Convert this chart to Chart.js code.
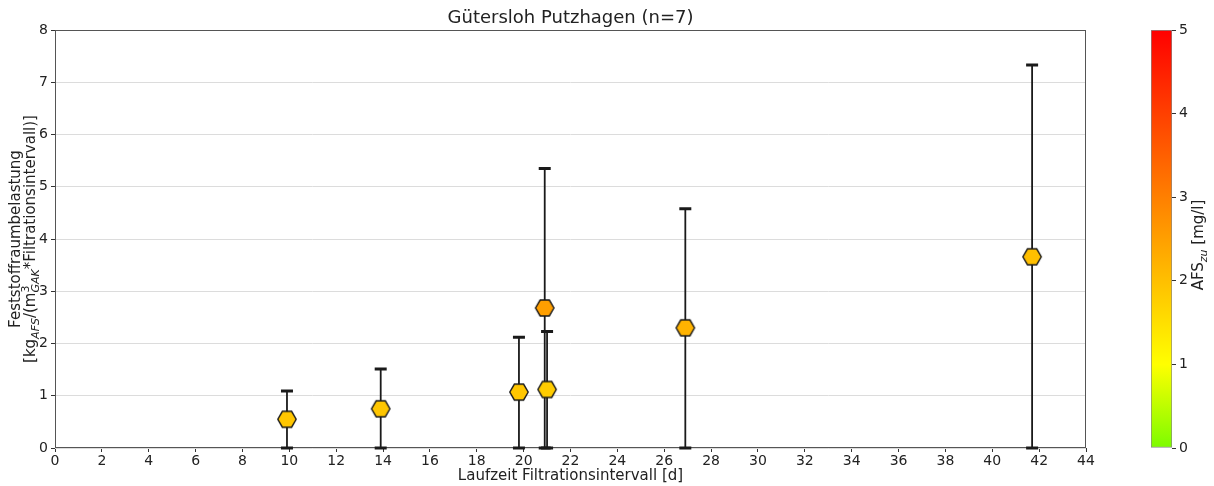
<!DOCTYPE html>
<html>
<head>
<meta charset="utf-8">
<script src="https://cdn.jsdelivr.net/npm/chart.js@4.4.0/dist/chart.umd.min.js"></script>
<style>
    body { margin: 0; background: #fff; }
    #wrap { position: relative; width: 1214px; height: 486px; }
    #main { position: absolute; left: 0; top: 0; }
    #cbar { position: absolute; left: 1130px; top: 0; }
</style>
</head>
<body>
<div id="wrap">
    <canvas id="main" width="1214" height="486"></canvas>
    <canvas id="cbar" width="84" height="486"></canvas>
</div>
<script>
// Data
const days = [9.9, 13.9, 19.8, 20.9, 21.0, 26.9, 41.7];      // Laufzeit [d]
const loadMean = [0.55, 0.75, 1.07, 2.68, 1.12, 2.30, 3.66];  // Feststoffraumbelastung
const loadMin = [0, 0, 0, 0, 0, 0, 0];
const loadMax = [1.09, 1.51, 2.12, 5.35, 2.23, 4.58, 7.33];
const afsIn = [1.9, 1.9, 1.9, 2.5, 1.8, 2.2, 2.0];            // AFS_zu [mg/l]
const cbarRange = [0, 5];

const FONT = '"DejaVu Sans", Verdana, sans-serif';
const TXT = '#222';

// green -> yellow -> red colormap
const cmapStops = [[0, [124, 252, 0]], [0.2, [255, 255, 0]], [1, [255, 0, 0]]];
function afsColor(v) {
    const t = Math.min(1, Math.max(0, (v - cbarRange[0]) / (cbarRange[1] - cbarRange[0])));
    for (let i = 1; i < cmapStops.length; i++) {
        const [t0, c0] = cmapStops[i - 1];
        const [t1, c1] = cmapStops[i];
        if (t <= t1) {
            const f = (t - t0) / (t1 - t0);
            const c = c0.map((a, k) => Math.round(a + (c1[k] - a) * f));
            return `rgb(${c[0]},${c[1]},${c[2]})`;
        }
    }
    return 'rgb(255,0,0)';
}

// hexagon marker (pointy left/right)
function hexMarker(fill) {
    const c = document.createElement('canvas');
    c.width = 22; c.height = 20;
    const g = c.getContext('2d');
    g.beginPath();
    for (let i = 0; i < 6; i++) {
        const a = i * Math.PI / 3;
        const px = 11 + 9.2 * Math.cos(a), py = 10 + 9.2 * Math.sin(a);
        i ? g.lineTo(px, py) : g.moveTo(px, py);
    }
    g.closePath();
    g.fillStyle = fill;
    g.fill();
    g.lineWidth = 1.4;
    g.strokeStyle = '#1a1a1a';
    g.stroke();
    return c;
}
const markers = afsIn.map(v => hexMarker(afsColor(v)));

// text with sub/superscripts, centred on x
function richText(g, parts, x, y) {
    const big = '15px ' + FONT, small = '11px ' + FONT, smallIt = 'italic 11px ' + FONT;
    const widthOf = p => {
        if (p.stack) {
            g.font = small; const a = g.measureText(p.sup).width;
            g.font = smallIt; const b = g.measureText(p.sub).width;
            return Math.max(a, b);
        }
        g.font = p.sub ? smallIt : big;
        return g.measureText(p.t).width;
    };
    const total = parts.reduce((s, p) => s + widthOf(p), 0);
    let cx = x - total / 2;
    g.textAlign = 'left';
    g.textBaseline = 'alphabetic';
    g.fillStyle = TXT;
    parts.forEach(p => {
        const w = widthOf(p);
        if (p.stack) {
            g.font = small; g.fillText(p.sup, cx, y - 6);
            g.font = smallIt; g.fillText(p.sub, cx, y + 4);
        } else if (p.sub) {
            g.font = smallIt; g.fillText(p.t, cx, y + 4);
        } else {
            g.font = big; g.fillText(p.t, cx, y);
        }
        cx += w;
    });
}

const mainDecor = {
    id: 'mainDecor',
    beforeDatasetsDraw(chart) {
        const g = chart.ctx, a = chart.chartArea;
        const xs = chart.scales.x, ys = chart.scales.y;
        g.save();
        g.strokeStyle = '#555';
        g.lineWidth = 1;
        g.strokeRect(a.left + 0.5, a.top + 0.5, a.right - a.left - 1, a.bottom - a.top - 1);
        // error bars
        g.strokeStyle = '#1a1a1a';
        days.forEach((d, i) => {
            const x = xs.getPixelForValue(d);
            const y0 = ys.getPixelForValue(loadMin[i]);
            const y1 = ys.getPixelForValue(loadMax[i]);
            g.lineWidth = 1.8;
            g.beginPath(); g.moveTo(x, y0); g.lineTo(x, y1); g.stroke();
            g.lineWidth = 3;
            g.beginPath();
            g.moveTo(x - 6, y0); g.lineTo(x + 6, y0);
            g.moveTo(x - 6, y1); g.lineTo(x + 6, y1);
            g.stroke();
        });
        g.restore();
    },
    afterDraw(chart) {
        const g = chart.ctx, a = chart.chartArea;
        g.save();
        g.fillStyle = TXT;
        g.font = '18px ' + FONT;
        g.textAlign = 'center';
        g.textBaseline = 'middle';
        g.fillText('Gütersloh Putzhagen (n=7)', (a.left + a.right) / 2, 18);
        const cy = (a.top + a.bottom) / 2;
        g.translate(0, cy);
        g.rotate(-Math.PI / 2);
        richText(g, [{ t: 'Feststoffraumbelastung' }], 0, 20);
        richText(g, [
            { t: '[kg' }, { t: 'AFS', sub: true }, { t: '/(m' },
            { stack: true, sup: '3', sub: 'GAK' }, { t: '*Filtrationsintervall)]' }
        ], 0, 35);
        g.restore();
    }
};

new Chart(document.getElementById('main').getContext('2d'), {
    type: 'scatter',
    data: {
        datasets: [{
            data: days.map((d, i) => ({ x: d, y: loadMean[i] })),
            pointStyle: ctx => markers[ctx.dataIndex],
            pointRadius: 10,
            pointHoverRadius: 10
        }]
    },
    options: {
        responsive: false,
        animation: false,
        events: [],
        layout: { padding: { top: 30, right: 128, left: 0, bottom: 0 } },
        plugins: { legend: { display: false }, tooltip: { enabled: false }, title: { display: false } },
        scales: {
            x: {
                type: 'linear', min: 0, max: 44,
                ticks: { stepSize: 2, color: TXT, font: { family: FONT, size: 14 }, padding: 1, maxRotation: 0 },
                grid: { drawOnChartArea: false, tickColor: '#333', tickLength: 4 },
                border: { display: false },
                title: {
                    display: true, text: 'Laufzeit Filtrationsintervall [d]', color: TXT,
                    font: { family: FONT, size: 15 }, padding: { top: 0, bottom: 1 }
                },
                afterFit: s => { s.height = 38; }
            },
            y: {
                min: 0, max: 8,
                ticks: { stepSize: 1, color: TXT, font: { family: FONT, size: 14 }, padding: 3 },
                grid: { color: '#dcdcdc', tickColor: '#333', tickLength: 4 },
                border: { display: false },
                afterFit: s => { s.width = 55; }
            }
        }
    },
    plugins: [mainDecor]
});

// colour bar
const cbarLabel = {
    id: 'cbarLabel',
    afterDraw(chart) {
        const g = chart.ctx;
        g.save();
        g.translate(0, 245);
        g.rotate(-Math.PI / 2);
        richText(g, [{ t: 'AFS' }, { t: 'zu', sub: true }, { t: ' [mg/l]' }], 0, 73);
        g.restore();
    }
};

new Chart(document.getElementById('cbar').getContext('2d'), {
    type: 'bar',
    data: {
        labels: [''],
        datasets: [{
            data: [cbarRange],
            backgroundColor: ctx => {
                const a = ctx.chart.chartArea;
                if (!a) return 'transparent';
                const grad = ctx.chart.ctx.createLinearGradient(0, a.bottom, 0, a.top);
                cmapStops.forEach(([t, c]) => grad.addColorStop(t, `rgb(${c[0]},${c[1]},${c[2]})`));
                return grad;
            },
            borderColor: '#888',
            borderWidth: 1,
            borderSkipped: false,
            barPercentage: 1,
            categoryPercentage: 1
        }]
    },
    options: {
        responsive: false,
        animation: false,
        events: [],
        layout: { padding: { left: 21, top: 30, bottom: 38, right: 0 } },
        plugins: { legend: { display: false }, tooltip: { enabled: false } },
        scales: {
            x: { display: false },
            y: {
                position: 'right', min: cbarRange[0], max: cbarRange[1],
                ticks: { stepSize: 1, color: TXT, font: { family: FONT, size: 14 }, padding: 3 },
                grid: { drawOnChartArea: false, tickColor: '#333', tickLength: 4 },
                border: { display: false },
                afterFit: s => { s.width = 42; }
            }
        }
    },
    plugins: [cbarLabel]
});
</script>
</body>
</html>
